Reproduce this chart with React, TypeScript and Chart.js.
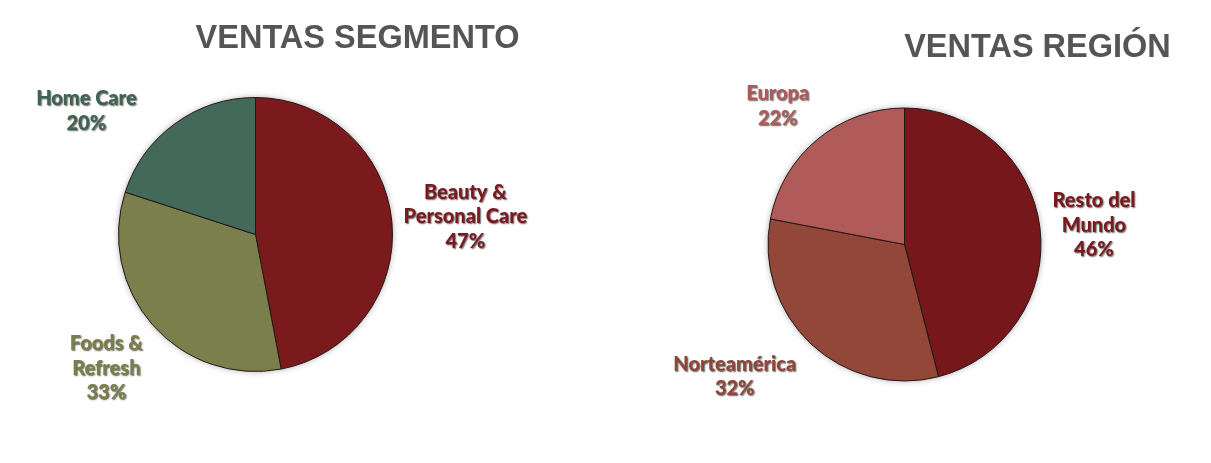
import React, { useEffect, useRef } from "react";
import { Chart, registerables } from "chart.js";

Chart.register(...registerables);

// ---- data ----
const segmentTitle = "VENTAS SEGMENTO";
const segmentCategories: string[][] = [["Beauty &", "Personal Care"], ["Foods &", "Refresh"], ["Home Care"]];
const segmentValues = [47, 33, 20];

const regionTitle = "VENTAS REGIÓN";
const regionCategories: string[][] = [["Resto del", "Mundo"], ["Norteamérica"], ["Europa"]];
const regionValues = [46, 32, 22];

// ---- styles ----
const segmentColors = ["#7a1a1c", "#7b7f4b", "#42695a"];
const segmentLabelColors = ["#7a1a20", "#7a7e48", "#3e6350"];
const regionColors = ["#76181b", "#934739", "#b05a59"];
const regionLabelColors = ["#7a1a1e", "#8f4538", "#b0595a"];

// label nudges (layout tweaks, px)
const segmentNudges = [[0, 0], [-10, 11], [-52, 17]];
const regionNudges = [[1, 4], [-26, 6], [-12, -5]];

const pieShadowPlugin = {
  id: "pieShadow",
  beforeDatasetsDraw(chart: any) {
    const arcs = chart.getDatasetMeta(0).data;
    if (!arcs.length) return;
    const p = arcs[0].getProps(["x", "y", "outerRadius"], true);
    const ctx = chart.ctx;
    ctx.save();
    ctx.shadowColor = "rgba(0,0,0,0.35)";
    ctx.shadowBlur = 6;
    ctx.shadowOffsetX = 0;
    ctx.shadowOffsetY = 0;
    ctx.fillStyle = "#ffffff";
    ctx.beginPath();
    ctx.arc(p.x, p.y, p.outerRadius, 0, Math.PI * 2);
    ctx.fill();
    ctx.restore();
  },
};

const outsideLabelsPlugin = {
  id: "outsideLabels",
  afterDatasetsDraw(chart: any, _args: any, opts: any) {
    const ctx = chart.ctx;
    const meta = chart.getDatasetMeta(0);
    const values = chart.data.datasets[0].data as number[];
    const labels = chart.data.labels as string[][];
    const lh = 24.5;
    const gap = 12;
    ctx.save();
    ctx.font = "900 20px Lato";
    ctx.textAlign = "center";
    ctx.textBaseline = "middle";
    meta.data.forEach((arc: any, i: number) => {
      const p = arc.getProps(["x", "y", "startAngle", "endAngle", "outerRadius"], true);
      const mid = (p.startAngle + p.endAngle) / 2;
      const dx = Math.cos(mid);
      const dy = Math.sin(mid);
      const lines = [...labels[i], `${values[i]}%`];
      const w = Math.max(...lines.map((l) => ctx.measureText(l).width));
      const h = lines.length * lh;
      const ax = p.x + dx * (p.outerRadius + gap);
      const ay = p.y + dy * (p.outerRadius + gap);
      const nudge = opts.nudges[i] || [0, 0];
      const cx = ax + (dx * w) / 2 + nudge[0];
      const cy = ay + (dy * h) / 2 + nudge[1];
      ctx.fillStyle = opts.colors[i];
      ctx.shadowColor = "rgba(0,0,0,0.6)";
      ctx.shadowBlur = 1.5;
      ctx.shadowOffsetX = 1;
      ctx.shadowOffsetY = 1;
      lines.forEach((l, k) => {
        ctx.fillText(l, cx, cy - h / 2 + lh * (k + 0.5));
      });
    });
    ctx.restore();
  },
};

const titlePlugin = {
  id: "fixedTitle",
  afterDraw(chart: any, _args: any, opts: any) {
    const ctx = chart.ctx;
    ctx.save();
    ctx.font = "bold 32.5px 'Liberation Sans', Arial, sans-serif";
    ctx.fillStyle = "#555555";
    ctx.textAlign = "center";
    ctx.textBaseline = "alphabetic";
    ctx.fillText(opts.text, opts.x, opts.y);
    ctx.restore();
  },
};

type PieProps = {
  width: number;
  height: number;
  left: number;
  title: string;
  titleX: number;
  titleY: number;
  labels: string[][];
  values: number[];
  colors: string[];
  labelColors: string[];
  nudges: number[][];
  padding: { left: number; right: number; top: number; bottom: number };
};

function PieChart(props: PieProps) {
  const ref = useRef<HTMLCanvasElement>(null);
  useEffect(() => {
    if (!ref.current) return;
    const chart = new Chart(ref.current, {
      type: "pie",
      data: {
        labels: props.labels as any,
        datasets: [
          {
            data: props.values,
            backgroundColor: props.colors,
            borderColor: "#231616",
            borderWidth: 1,
          },
        ],
      },
      options: {
        responsive: false,
        animation: false,
        layout: { padding: props.padding },
        plugins: {
          legend: { display: false },
          tooltip: { enabled: false },
          outsideLabels: { colors: props.labelColors, nudges: props.nudges },
          fixedTitle: { text: props.title, x: props.titleX, y: props.titleY },
        } as any,
      },
      plugins: [pieShadowPlugin, outsideLabelsPlugin, titlePlugin],
    });
    return () => chart.destroy();
  }, []);
  return (
    <canvas
      ref={ref}
      width={props.width}
      height={props.height}
      style={{ position: "absolute", left: props.left, top: 0, width: props.width, height: props.height }}
    />
  );
}

export default function App() {
  return (
    <div style={{ position: "fixed", left: 0, top: 0, width: 1211, height: 463, background: "#ffffff" }}>
      <PieChart
        width={605}
        height={463}
        left={0}
        title={segmentTitle}
        titleX={357.5}
        titleY={48}
        labels={segmentCategories}
        values={segmentValues}
        colors={segmentColors}
        labelColors={segmentLabelColors}
        nudges={segmentNudges}
        padding={{ left: 118, right: 212, top: 97, bottom: 91 }}
      />
      <PieChart
        width={606}
        height={463}
        left={605}
        title={regionTitle}
        titleX={432.5}
        titleY={57}
        labels={regionCategories}
        values={regionValues}
        colors={regionColors}
        labelColors={regionLabelColors}
        nudges={regionNudges}
        padding={{ left: 162.5, right: 169.5, top: 107.5, bottom: 81.5 }}
      />
    </div>
  );
}
